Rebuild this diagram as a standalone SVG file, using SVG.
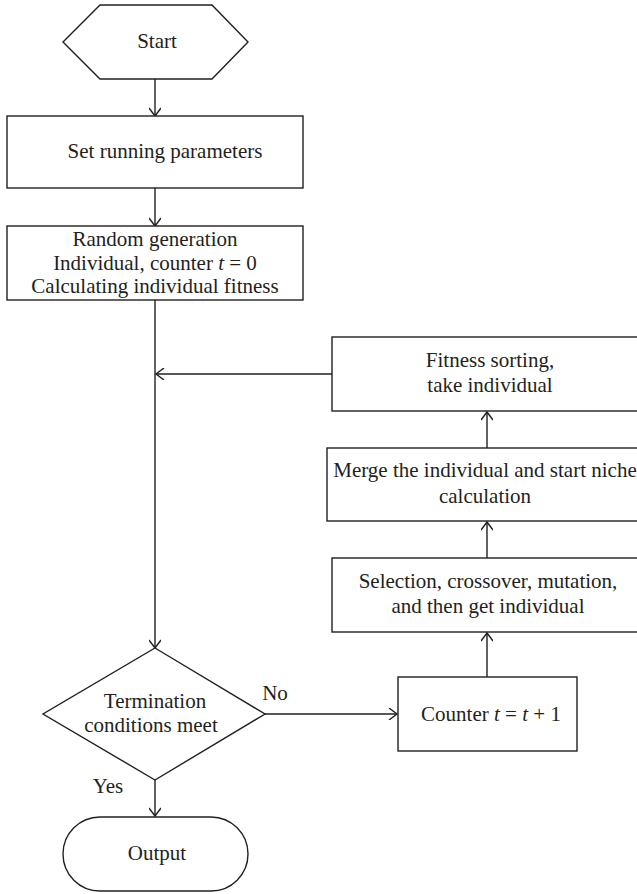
<svg xmlns="http://www.w3.org/2000/svg" width="637" height="894" viewBox="0 0 637 894">
<defs>
<style>
.s{fill:#fff;stroke:#231f20;stroke-width:1.4}
.t{font-family:"Liberation Serif","Times New Roman",serif;font-size:21px;fill:#231f20;text-anchor:middle}
.c{fill:none;stroke:#231f20;stroke-width:1.4}
.i{font-style:italic}
</style>
<marker id="a" markerWidth="12" markerHeight="12" viewBox="-10 -6 12 12" refX="0" refY="0" orient="auto" markerUnits="userSpaceOnUse">
<polyline points="-8,-6 0,0 -8,6" fill="none" stroke="#231f20" stroke-width="1.4"/>
</marker>
</defs>
<rect width="637" height="894" fill="#fff"/>
<g id="connectors">
<line class="c" x1="155" y1="79" x2="155" y2="116" marker-end="url(#a)"/>
<line class="c" x1="155" y1="188" x2="155" y2="226" marker-end="url(#a)"/>
<line class="c" x1="155" y1="300" x2="155" y2="648" marker-end="url(#a)"/>
<line class="c" x1="332" y1="374" x2="156" y2="374" marker-end="url(#a)"/>
<line class="c" x1="487" y1="448" x2="487" y2="412" marker-end="url(#a)"/>
<line class="c" x1="487" y1="558" x2="487" y2="522" marker-end="url(#a)"/>
<line class="c" x1="487" y1="677" x2="487" y2="633" marker-end="url(#a)"/>
<line class="c" x1="265" y1="714" x2="397" y2="714" marker-end="url(#a)"/>
<line class="c" x1="155" y1="780" x2="155" y2="816" marker-end="url(#a)"/>
<text class="t" x="275" y="700">No</text>
<text class="t" x="108" y="793">Yes</text>
</g>
<g id="start">
<polygon class="s" points="100,5 212,5 248,42 212,79 100,79 63,42"/>
<text class="t" x="157" y="48">Start</text>
</g>
<g id="set-params">
<rect class="s" x="7" y="116" width="296" height="72"/>
<text class="t" x="165" y="158">Set running parameters</text>
</g>
<g id="random-gen">
<rect class="s" x="7" y="226" width="296" height="74"/>
<text class="t" x="155" y="246">Random generation</text>
<text class="t" x="155" y="270">Individual, counter <tspan class="i">t</tspan> = 0</text>
<text class="t" x="155" y="293">Calculating individual fitness</text>
</g>
<g id="fitness-sort">
<rect class="s" x="332" y="337" width="310" height="74"/>
<text class="t" x="490" y="367">Fitness sorting,</text>
<text class="t" x="490" y="392">take individual</text>
</g>
<g id="merge">
<rect class="s" x="327" y="448" width="320" height="73"/>
<text class="t" x="485" y="477">Merge the individual and start niche</text>
<text class="t" x="485" y="503">calculation</text>
</g>
<g id="selection">
<rect class="s" x="332" y="558" width="310" height="74"/>
<text class="t" x="488" y="588">Selection, crossover, mutation,</text>
<text class="t" x="488" y="613">and then get individual</text>
</g>
<g id="counter">
<rect class="s" x="398" y="677" width="179" height="74"/>
<text class="t" x="491" y="721">Counter <tspan class="i">t</tspan> = <tspan class="i">t</tspan> + 1</text>
</g>
<g id="termination">
<polygon class="s" points="155,648 265,714 155,780 43,714"/>
<text class="t" x="155" y="708">Termination</text>
<text class="t" x="151" y="732">conditions meet</text>
</g>
<g id="output">
<rect class="s" x="63" y="817" width="185" height="74" rx="37" ry="37"/>
<text class="t" x="157" y="860">Output</text>
</g>
</svg>
